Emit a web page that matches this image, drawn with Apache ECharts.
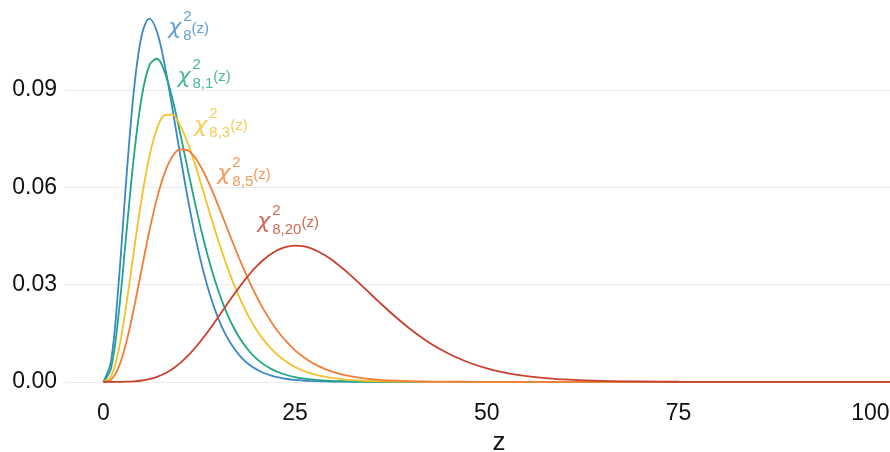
<!DOCTYPE html>
<html>
<head>
<meta charset="utf-8">
<script src="https://cdn.jsdelivr.net/npm/echarts@6.0.0/dist/echarts.min.js"></script>
<style>
  html, body { margin: 0; padding: 0; background: #ffffff; }
  #chart { width: 890px; height: 452px; }
</style>
</head>
<body>
<div id="chart"></div>
<script>
// ---- data ----
var zValues = [0,1,2,3,4,5,6,7,8,9,10,11,12,13,14,15,16,17,18,19,20,21,22,23,24,25,26,27,28,29,30,
  32,34,36,38,40,42,44,46,48,50,52,54,56,58,60,
  65,70,75,80,85,90,95,100,105];

var chi8 = [0,0.00632,0.03066,0.06276,0.09022,0.10688,0.11202,0.10789,0.09769,0.08436,0.07019,0.05666,0.04462,0.03441,0.02607,0.01944,0.01431,0.01041,0.00750,0.00535,0.00378,0.00266,0.00185,0.00128,0.00088,0.00061,0.00041,0.00028,0.00019,0.00013,0.00009,
  0.00004,0.00002,0.00001,0,0,0,0,0,0,0,0,0,0,0,0,
  0,0,0,0,0,0,0,0,0];

var chi8nc1 = [0,0.00408,0.02104,0.04576,0.06985,0.08780,0.09758,0.09963,0.09551,0.08730,0.07684,0.06559,0.05458,0.04445,0.03555,0.02799,0.02173,0.01667,0.01264,0.00950,0.00707,0.00523,0.00384,0.00280,0.00203,0.00146,0.00105,0.00075,0.00053,0.00037,0.00026,
  0.00013,0.00006,0.00003,0.00001,0.00001,0,0,0,0,0,0,0,0,0,0,
  0,0,0,0,0,0,0,0,0];

var chi8nc3 = [0,0.00169,0.00982,0.02389,0.04060,0.05660,0.06950,0.07814,0.08228,0.08242,0.07910,0.07370,0.06671,0.05897,0.05110,0.04353,0.03647,0.03016,0.02463,0.01990,0.01591,0.01263,0.00991,0.00772,0.00598,0.00458,0.00351,0.00266,0.00202,0.00152,0.00114,
  0.00063,0.00034,0.00018,0.00010,0.00005,0.00003,0.00001,0,0,0,0,0,0,0,0,
  0,0,0,0,0,0,0,0,0];

var chi8nc5 = [0,0.00070,0.00454,0.01222,0.02284,0.03481,0.04650,0.05666,0.06443,0.06948,0.07167,0.07139,0.06904,0.06504,0.05997,0.05423,0.04820,0.04220,0.03644,0.03108,0.02621,0.02188,0.01809,0.01483,0.01206,0.00970,0.00780,0.00619,0.00491,0.00386,0.00303,
  0.00182,0.00108,0.00063,0.00036,0.00020,0.00011,0.00006,0.00003,0.00002,0.00001,0,0,0,0,0,
  0,0,0,0,0,0,0,0,0];

var chi8nc20 = [0,0,0.00001,0.00005,0.00017,0.00041,0.00084,0.00154,0.00257,0.00397,0.00578,0.00799,0.01059,0.01352,0.01671,0.02007,0.02348,0.02685,0.03006,0.03303,0.03565,0.03787,0.03964,0.04092,0.04170,0.04199,0.04182,0.04121,0.04021,0.03887,0.03724,
  0.03336,0.02899,0.02451,0.02022,0.01630,0.01286,0.00996,0.00757,0.00566,0.00416,0.00301,0.00215,0.00152,0.00106,0.00073,
  0.00027,0.00010,0.00003,0.00001,0,0,0,0,0];

var seriesNames = ['chi2_8', 'chi2_8,1', 'chi2_8,3', 'chi2_8,5', 'chi2_8,20'];
var seriesValues = [chi8, chi8nc1, chi8nc3, chi8nc5, chi8nc20];

// curve labels: subscript text and anchor in data coordinates
var labelSub = ['8', '8,1', '8,3', '8,5', '8,20'];
var labelX = [8.4, 9.6, 11.8, 14.8, 20.0];
var labelY = [0.1106, 0.0956, 0.0805, 0.0654, 0.0506];

var xTicks = [0, 25, 50, 75, 100];
var yTicks = [0, 0.03, 0.06, 0.09];

// ---- styles ----
var colors = ['#3b87c7', '#20a583', '#f3c12c', '#f07e36', '#c8412e'];
var FONT = 'Liberation Sans, Arial, Helvetica, sans-serif';
var GREEK = 'DejaVu Sans, Liberation Sans, sans-serif';

var series = [];
seriesValues.forEach(function (vals, k) {
  series.push({
    name: seriesNames[k],
    type: 'line',
    data: zValues.map(function (z, i) { return [z, vals[i]]; }),
    showSymbol: false,
    smooth: 0.35,
    lineStyle: { color: colors[k], width: 1.8 },
    itemStyle: { color: colors[k] },
    silent: true,
    z: 2 + k
  });
});

labelSub.forEach(function (sub, k) {
  var c = colors[k];
  series.push({
    type: 'scatter',
    data: [[labelX[k], labelY[k]]],
    symbol: 'circle',
    symbolSize: 1,
    itemStyle: { color: 'rgba(0,0,0,0)' },
    silent: true,
    z: 20,
    label: {
      show: true,
      position: 'right',
      distance: 0,
      align: 'left',
      formatter: '{sp| }{sup|2}\n{chi|χ}{sub|' + sub + '}{zz|(z)}',
      rich: {
        sp:  { width: 15, lineHeight: 8, fontSize: 15, fontFamily: FONT, color: c, verticalAlign: 'top' },
        sup: { fontSize: 15, lineHeight: 3, fontFamily: FONT, color: c, verticalAlign: 'top' },
        chi: { width: 15, fontSize: 22, lineHeight: 20, fontFamily: GREEK, fontStyle: 'italic', color: c, verticalAlign: 'top' },
        sub: { fontSize: 15, lineHeight: 14, padding: [11, 0, 0, 0], fontFamily: FONT, color: c, verticalAlign: 'top' },
        zz:  { fontSize: 15, lineHeight: 14, padding: [4, 0, 0, 0], fontFamily: FONT, color: c, verticalAlign: 'top' }
      }
    }
  });
});

var chart = echarts.init(document.getElementById('chart'), null, { renderer: 'canvas' });
chart.setOption({
  animation: false,
  backgroundColor: '#ffffff',
  grid: { left: 65, right: 0, top: 0.5, bottom: 52, containLabel: false, outerBoundsMode: 'none' },
  xAxis: {
    type: 'value',
    min: -5,
    max: 102.56,
    name: 'z',
    nameLocation: 'middle',
    nameGap: 29,
    nameTextStyle: { fontSize: 26, color: '#111111', fontFamily: FONT, padding: [0, 0, 0, 43] },
    axisLine: { show: false },
    axisTick: { show: false, customValues: xTicks },
    axisLabel: {
      customValues: xTicks,
      fontSize: 23, color: '#111111', fontFamily: FONT, margin: 2,
      formatter: function (v) { return String(v); }
    },
    splitLine: { show: false }
  },
  yAxis: {
    type: 'value',
    min: -0.0056,
    max: 0.1176,
    axisLine: { show: false },
    axisTick: { show: false, customValues: yTicks },
    axisLabel: {
      customValues: yTicks,
      fontSize: 23, color: '#111111', fontFamily: FONT, margin: 8,
      formatter: function (v) { return v.toFixed(2); }
    },
    splitLine: { show: true, lineStyle: { color: '#ebebeb', width: 1 } }
  },
  series: series
});
</script>
</body>
</html>
